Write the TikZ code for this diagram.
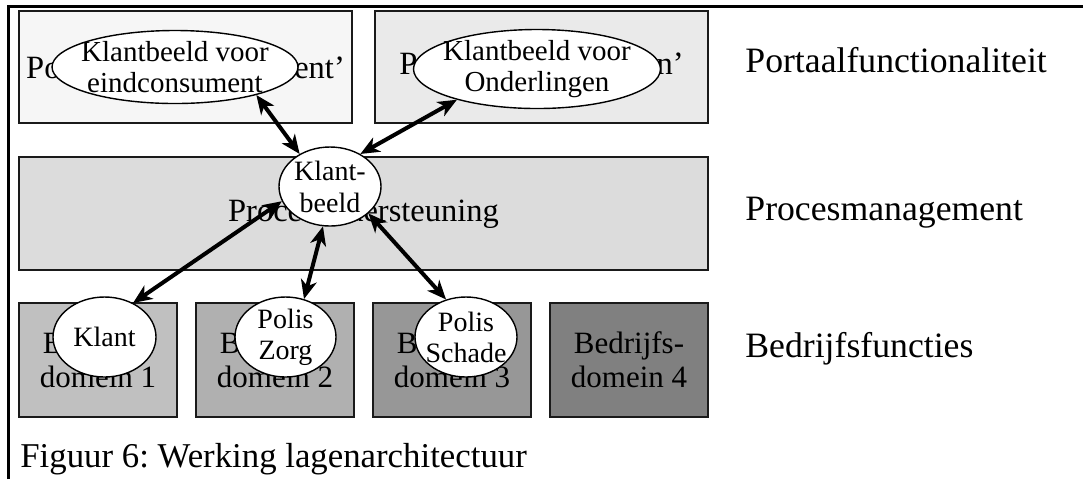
\documentclass[tikz,border=0pt]{standalone}
\usepackage{fontspec}
\setmainfont{Liberation Serif}
\frenchspacing
\usetikzlibrary{arrows.meta,shapes.geometric}

\definecolor{portalA}{HTML}{F6F6F6}
\definecolor{portalB}{HTML}{EAEAEA}
\definecolor{procfill}{HTML}{DCDCDC}
\definecolor{domA}{HTML}{C0C0C0}
\definecolor{domB}{HTML}{B0B0B0}
\definecolor{domC}{HTML}{979797}
\definecolor{domD}{HTML}{808080}
\definecolor{boxline}{HTML}{1A1A1A}

\begin{document}
\begin{tikzpicture}[x=0.5pt,y=-0.5pt,
  layerbox/.style={draw=boxline,line width=0.8pt,inner sep=0pt,align=center},
  hidden/.style={font=\fontsize{16.25}{18}\selectfont},
  dombox/.style={layerbox,minimum width=79pt,minimum height=57pt,
                 font=\fontsize{15.5}{17}\selectfont},
  oval/.style={ellipse,draw=black,line width=0.7pt,fill=white,inner sep=0pt},
  ovaltext/.style={align=center,font=\fontsize{14}{15.5}\selectfont},
  layerlabel/.style={anchor=base west,inner sep=0pt,font=\fontsize{17.85}{20}\selectfont},
  conn/.style={{Stealth[length=9.5pt,width=8pt,inset=2.8pt]}-{Stealth[length=9.5pt,width=8pt,inset=2.8pt]},
               line width=2pt}
]
\useasboundingbox (0,0) rectangle (1083,479);

% frame: top rule and left rule
\draw[line width=1.5pt] (8,479) -- (8,6.5) -- (1083,6.5);

% portal layer
\node[layerbox,fill=portalA,minimum width=166.5pt,minimum height=56pt,hidden]
  (p1) at (185.5,67) {Portaal ‘eindconsument’};
\node[layerbox,fill=portalB,minimum width=166.5pt,minimum height=56pt,hidden]
  (p2) at (541.5,67) {Portaal ‘Onderlingen’};

% process layer
\node[layerbox,fill=procfill,minimum width=344.5pt,minimum height=56.5pt,hidden]
  (proc) at (363.5,213.5) {Procesondersteuning};

% business domains
\node[dombox,fill=domA] (d1) at (98,360)  {Bedrijfs-\\domein 1};
\node[dombox,fill=domB] (d2) at (275,360) {Bedrijfs-\\domein 2};
\node[dombox,fill=domC] (d3) at (452,360) {Bedrijfs-\\domein 3};
\node[dombox,fill=domD] (d4) at (629,360) {Bedrijfs-\\domein 4};

% layer names
\node[layerlabel] (l1) at (745,72)  {Portaalfunctionaliteit};
\node[layerlabel] (l2) at (745,220) {Procesmanagement};
\node[layerlabel] (l3) at (745,357) {Bedrijfsfuncties};

% caption
\node[anchor=base west,inner sep=0pt,font=\fontsize{17.4}{20}\selectfont] (cap) at (20,467)
  {Figuur 6: Werking lagenarchitectuur};

% customer views and data objects
\node[oval,minimum width=123pt,minimum height=36.5pt,
  label={[ovaltext,font=\fontsize{14.5}{15.5}\selectfont]center:Klantbeeld voor\\eindconsument}] (e1) at (175,67) {};
\node[oval,minimum width=123.5pt,minimum height=39.5pt,
  label={[ovaltext,font=\fontsize{14.5}{15.5}\selectfont]center:Klantbeeld voor\\Onderlingen}] (e2) at (537,69) {};
\node[oval,minimum width=51pt,minimum height=39.5pt,
  label={[ovaltext,font=\fontsize{14}{16}\selectfont]center:Klant-\\beeld}] (kb) at (330,186.5) {};
\node[oval,minimum width=51.5pt,minimum height=40pt,
  label={[ovaltext]center:Klant}] (k) at (104.5,337) {};
\node[oval,minimum width=50.5pt,minimum height=40pt,
  label={[ovaltext]center:Polis\\Zorg}] (z) at (285.5,337) {};
\node[oval,minimum width=51pt,minimum height=40pt,
  label={[ovaltext]center:Polis\\Schade}] (s) at (466,337) {};

% connections
\draw[conn] (e1.-19) -- (kb.133);
\draw[conn] (e2.201) -- (kb.47);
\draw[conn] (kb.197) -- (k.50);
\draw[conn] (kb.260) -- (z.64);
\draw[conn] (kb.-35) -- (s.118);
\end{tikzpicture}
\end{document}
